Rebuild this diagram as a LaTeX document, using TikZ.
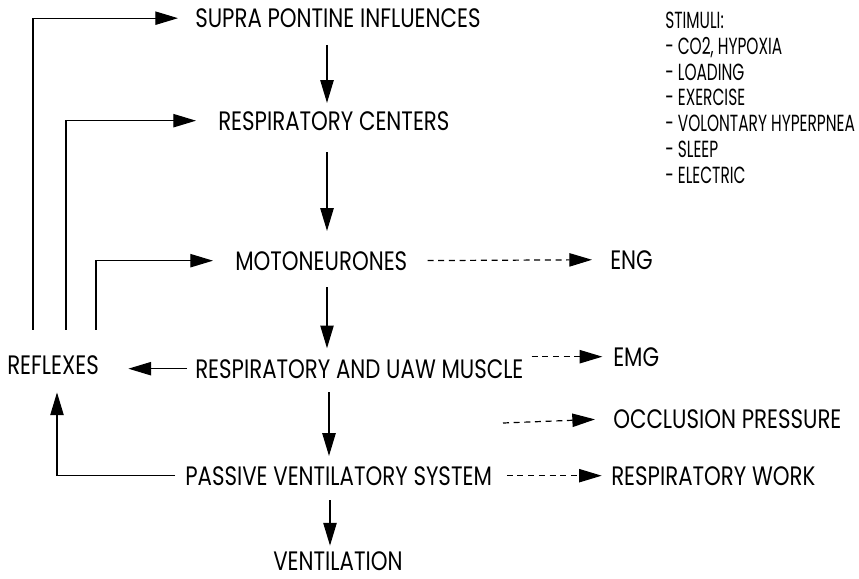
\documentclass[tikz,border=0pt]{standalone}
\usepackage{fontspec}
\setmainfont[FakeStretch=0.8]{Poppins}
\newfontfamily\listfont[FakeStretch=0.66]{Poppins}
\usetikzlibrary{arrows.meta,calc}

\begin{document}
\begin{tikzpicture}[x=0.75pt,y=-0.75pt,
  stage/.style={font=\fontsize{20}{24}\selectfont, inner sep=0pt, anchor=base west},
  flow/.style={-{Triangle[length=17pt,width=10pt]}, line width=0.9pt},
  probe/.style={flow, dash pattern=on 4.5pt off 3.5pt}]
\useasboundingbox (0,0) rectangle (859,578);

% Define the column of the main chain
\pgfmathsetmacro{\Xspine}{327};
\coordinate (spine) at (\Xspine,0);

% main chain
\node[stage] (supra) at (195,27.5) {SUPRA PONTINE INFLUENCES};
\node[stage] (centers) at (218,130) {RESPIRATORY CENTERS};
\node[stage] (motoneurones) at (235,270) {MOTONEURONES};
\node[stage] (muscle) at (195,378) {RESPIRATORY AND UAW MUSCLE};
\node[stage] (passive) at (185,485) {PASSIVE VENTILATORY SYSTEM};
\node[stage] (ventilation) at (273,570) {VENTILATION};

\node[stage] (reflexes) at (7,374) {REFLEXES};

% measured outputs
\node[stage] (eng) at (610,269) {ENG};
\node[stage] (emg) at (613,366) {EMG};
\node[stage] (occlusion) at (613,428) {OCCLUSION PRESSURE};
\node[stage] (work) at (611,485) {RESPIRATORY WORK};

% stimuli list
\node[font=\listfont\fontsize{17.5}{19.3}\selectfont, inner sep=0pt, anchor=north west, align=left]
  (stimuli) at (665,12) {STIMULI:\\- CO2, HYPOXIA\\- LOADING\\- EXERCISE\\- VOLONTARY HYPERPNEA\\- SLEEP\\- ELECTRIC};

% Draw the vertical arrows
\draw[flow, shorten <=12.75pt, shorten >=6pt] (supra.south -| spine) -- (centers.north -| spine);
\draw[flow, shorten <=16.5pt, shorten >=15pt] (centers.south -| spine) -- (motoneurones.north -| spine);
\draw[flow, shorten <=12.75pt, shorten >=8pt] (motoneurones.south -| spine) -- (muscle.north -| spine);
\draw[flow, shorten <=10.5pt, shorten >=7.5pt] ([xshift=1.5pt]muscle.south -| spine) -- ([xshift=1.5pt]passive.north -| spine);
\draw[flow, shorten <=11pt, shorten >=4pt] ([xshift=2.25pt]passive.south -| spine) -- ([xshift=2.25pt]ventilation.north -| spine);

% feedback loops
\draw[flow, shorten >=12.75pt] ($(reflexes.north west)+(26,-25)$) |- (supra.west);
\draw[flow, shorten >=16.5pt] ($(reflexes.north west)+(59,-25)$) |- (centers.west);
\draw[flow, shorten >=16.5pt] ($(reflexes.north west)+(89,-25)$) |- (motoneurones.west);
\draw[flow, shorten <=6pt, shorten >=22pt] (muscle.west) -- (muscle.west -| reflexes.east);
\draw[flow, shorten <=7.5pt, shorten >=13.5pt] (passive.west) -| ($(reflexes.south west)+(50,0)$);

% dashed outputs
\coordinate (occfrom) at (503,423);
\draw[probe, shorten <=15pt, shorten >=13.5pt] (motoneurones.east) -- (eng.west);
\draw[probe, shorten <=6pt, shorten >=8pt] (muscle.east |- emg.west) -- (emg.west);
\draw[probe, shorten >=13.5pt] (occfrom) -- (occlusion.west);
\draw[probe, shorten <=11pt, shorten >=7pt] (passive.east) -- (work.west);
\end{tikzpicture}
\end{document}
